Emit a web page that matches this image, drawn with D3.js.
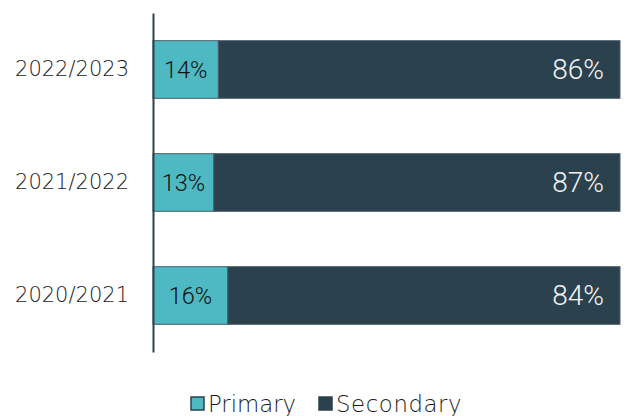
<!DOCTYPE html>
<html><head><meta charset="utf-8">
<script src="https://cdn.jsdelivr.net/npm/d3@7"></script>
<style>body{margin:0;background:#fff}svg{display:block}</style>
</head><body><svg id="c" width="629" height="416"></svg>
<script>
const categories = ["2022/2023","2021/2022","2020/2021"];
const primary = [14,13,16];
const secondary = [86,87,84];
const seriesNames = ["Primary","Secondary"];
const colors = ["#4fb9c3","#2b414e"];

const svg = d3.select("#c");
const x = d3.scaleLinear().domain([0,100]).range([153,620]);
const y = d3.scaleBand().domain(categories).range([13,352]).paddingInner(0.49).paddingOuter(0.245);

const data = categories.map((c,i)=>({cat:c,Primary:primary[i],Secondary:secondary[i]}));
const stack = d3.stack().keys(seriesNames)(data);

stack.forEach((s,si)=>{
  svg.append("g").selectAll("rect").data(s).join("rect")
    .attr("x",d=>x(d[0])).attr("width",d=>x(d[1])-x(d[0]))
    .attr("y",d=>y(d.data.cat)).attr("height",y.bandwidth())
    .attr("fill",colors[si]).attr("stroke","#4b5f6a").attr("stroke-width",1);
});

const lblFont = "Roboto, sans-serif";
const txtFont = "'DejaVu Sans', sans-serif";
// labels
svg.append("g").selectAll("text").data(stack[0]).join("text")
  .attr("x",d=>(x(d[0])+x(d[1]))/2).attr("y",d=>y(d.data.cat)+y.bandwidth()/2)
  .attr("text-anchor","middle").attr("dominant-baseline","central")
  .style("font-family",lblFont).attr("font-weight",300)
  .attr("font-size",23.5).attr("fill","#111111").text(d=>d.data.Primary+"%");
svg.append("g").selectAll("text").data(stack[1]).join("text")
  .attr("x",d=>x(d[1])-16).attr("y",d=>y(d.data.cat)+y.bandwidth()/2)
  .attr("text-anchor","end").attr("dominant-baseline","central")
  .style("font-family",lblFont).attr("font-weight",300)
  .attr("font-size",28).attr("fill","#f4f4f4").text(d=>d.data.Secondary+"%");

// axis
const ax = svg.append("g").attr("transform","translate(153,0)").call(d3.axisLeft(y).tickSize(0).tickPadding(24));
ax.select(".domain").attr("stroke","#2b414e").attr("stroke-width",2);
ax.selectAll("text").attr("font-size",21).attr("fill","#1a1a1a").attr("font-weight",200).style("font-family",txtFont);

// legend
const leg = svg.append("g");
const legX = [191,319];
seriesNames.forEach((n,i)=>{
  leg.append("rect").attr("x",legX[i]).attr("y",397).attr("width",13).attr("height",13)
    .attr("fill",colors[i]).attr("stroke","#2b414e").attr("stroke-width",1.5);
  leg.append("text").attr("x",legX[i]+17).attr("y",404).attr("dominant-baseline","central")
    .style("font-family",txtFont).attr("font-weight",200)
    .attr("font-size",22.8).attr("letter-spacing",i===1?0.6:0).attr("fill","#1a1a1a").text(n);
});
</script></body></html>
